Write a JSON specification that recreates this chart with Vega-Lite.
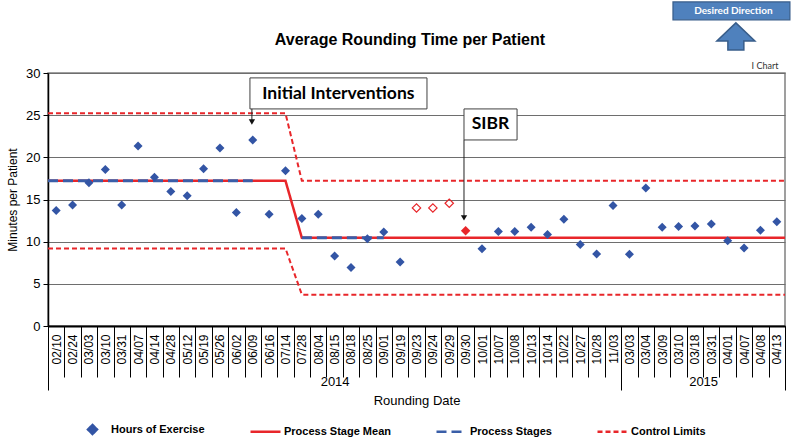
{
  "$schema": "https://vega.github.io/schema/vega-lite/v6.json",
  "width": 737,
  "height": 253,
  "autosize": {"type": "none"},
  "padding": {"left": 48, "top": 73, "right": 15, "bottom": 111},
  "background": "white",
  "config": {"view": {"stroke": "#808080", "strokeWidth": 1.5}, "font": "Liberation Sans"},
  "resolve": {"axis": {"x": "independent"}},
  "encoding": {
    "y": {"field": "v", "type": "quantitative", "scale": {"domain": [0, 30], "nice": false, "zero": false},
      "axis": {"values": [0, 5, 10, 15, 20, 25, 30], "grid": true, "gridColor": "#6e6e6e", "gridWidth": 1, "domainColor": "#000000", "domainWidth": 1.5, "tickColor": "#000000", "tickSize": 5, "labelFont": "Liberation Sans", "labelFontSize": 13, "labelColor": "#000000", "labelPadding": 3, "title": "Minutes per Patient", "titleFont": "Liberation Sans", "titleFontSize": 12, "titleFontWeight": "normal", "titleColor": "#000000", "titlePadding": 6}}
  },
  "layer": [
    {
      "data": {"values": [
        {"series": "Process Stage Mean", "i": 0.5, "v": 17.22},
        {"series": "Process Stage Mean", "i": 15, "v": 17.22},
        {"series": "Process Stage Mean", "i": 16, "v": 10.45},
        {"series": "Process Stage Mean", "i": 45.5, "v": 10.45}
      ]},
      "mark": {"type": "line", "strokeWidth": 2.5},
      "encoding": {
        "x": {"field": "i", "type": "quantitative", "scale": {"domain": [0.5, 45.5], "nice": false, "zero": false},
          "axis": {"orient": "bottom", "values": [0.5, 1.5, 2.5, 3.5, 4.5, 5.5, 6.5, 7.5, 8.5, 9.5, 10.5, 11.5, 12.5, 13.5, 14.5, 15.5, 16.5, 17.5, 18.5, 19.5, 20.5, 21.5, 22.5, 23.5, 24.5, 25.5, 26.5, 27.5, 28.5, 29.5, 30.5, 31.5, 32.5, 33.5, 34.5, 35.5, 36.5, 37.5, 38.5, 39.5, 40.5, 41.5, 42.5, 43.5, 44.5, 45.5], "labels": false, "ticks": true, "tickSize": 51, "tickColor": "#000000", "tickWidth": 1, "domain": false, "grid": false, "title": null}},
        "color": {"field": "series", "type": "nominal"},
        "strokeDash": {"field": "series", "type": "nominal"}
      }
    },
    {
      "data": {"values": [
        {"series": "Control Limits", "line": "upper", "i": 0.5, "v": 25.22},
        {"series": "Control Limits", "line": "upper", "i": 15, "v": 25.22},
        {"series": "Control Limits", "line": "upper", "i": 16, "v": 17.22},
        {"series": "Control Limits", "line": "upper", "i": 45.5, "v": 17.22},
        {"series": "Control Limits", "line": "lower", "i": 0.5, "v": 9.2},
        {"series": "Control Limits", "line": "lower", "i": 15, "v": 9.2},
        {"series": "Control Limits", "line": "lower", "i": 16, "v": 3.72},
        {"series": "Control Limits", "line": "lower", "i": 45.5, "v": 3.72}
      ]},
      "mark": {"type": "line", "strokeWidth": 2},
      "encoding": {
        "x": {"field": "i", "type": "quantitative", "scale": {"domain": [0.5, 45.5], "nice": false, "zero": false},
          "axis": {"orient": "bottom", "values": [18, 40.5], "labelExpr": "datum.value < 30 ? '2014' : '2015'", "ticks": false, "domain": false, "grid": false, "labelAngle": 0, "labelAlign": "center", "labelBaseline": "top", "labelPadding": 49, "labelFont": "Liberation Sans", "labelFontSize": 13, "labelColor": "#000000", "title": "Rounding Date", "titleFont": "Liberation Sans", "titleFontSize": 13, "titleFontWeight": "normal", "titleColor": "#000000", "titlePadding": 6}},
        "detail": {"field": "line"},
        "color": {"field": "series", "type": "nominal"},
        "strokeDash": {"field": "series", "type": "nominal"}
      }
    },
    {
      "data": {"values": [
        {"series": "Process Stages", "line": "stage1", "i": 0.5, "v": 17.22},
        {"series": "Process Stages", "line": "stage1", "i": 13, "v": 17.22},
        {"series": "Process Stages", "line": "stage2", "i": 16, "v": 10.45},
        {"series": "Process Stages", "line": "stage2", "i": 21, "v": 10.45}
      ]},
      "mark": {"type": "line", "strokeWidth": 3},
      "encoding": {
        "x": {"field": "i", "type": "quantitative", "scale": {"domain": [0.5, 45.5], "nice": false, "zero": false},
          "axis": {"orient": "bottom", "values": [0.5, 35.5, 45.5], "labels": false, "ticks": true, "tickSize": 64, "tickColor": "#000000", "tickWidth": 1, "domain": false, "grid": false, "title": null}},
        "detail": {"field": "line"},
        "color": {"field": "series", "type": "nominal"},
        "strokeDash": {"field": "series", "type": "nominal"}
      }
    },
    {
      "data": {"name": "pts", "values": [
        {"i": 1, "date": "2014-02-10", "v": 13.7, "status": "normal", "series": "Hours of Exercise"},
        {"i": 2, "date": "2014-02-24", "v": 14.35, "status": "normal", "series": "Hours of Exercise"},
        {"i": 3, "date": "2014-03-03", "v": 17.0, "status": "normal", "series": "Hours of Exercise"},
        {"i": 4, "date": "2014-03-10", "v": 18.55, "status": "normal", "series": "Hours of Exercise"},
        {"i": 5, "date": "2014-03-31", "v": 14.35, "status": "normal", "series": "Hours of Exercise"},
        {"i": 6, "date": "2014-04-07", "v": 21.35, "status": "normal", "series": "Hours of Exercise"},
        {"i": 7, "date": "2014-04-14", "v": 17.65, "status": "normal", "series": "Hours of Exercise"},
        {"i": 8, "date": "2014-04-28", "v": 15.95, "status": "normal", "series": "Hours of Exercise"},
        {"i": 9, "date": "2014-05-12", "v": 15.45, "status": "normal", "series": "Hours of Exercise"},
        {"i": 10, "date": "2014-05-19", "v": 18.65, "status": "normal", "series": "Hours of Exercise"},
        {"i": 11, "date": "2014-05-26", "v": 21.1, "status": "normal", "series": "Hours of Exercise"},
        {"i": 12, "date": "2014-06-02", "v": 13.45, "status": "normal", "series": "Hours of Exercise"},
        {"i": 13, "date": "2014-06-09", "v": 22.05, "status": "normal", "series": "Hours of Exercise"},
        {"i": 14, "date": "2014-06-16", "v": 13.25, "status": "normal", "series": "Hours of Exercise"},
        {"i": 15, "date": "2014-07-14", "v": 18.4, "status": "normal", "series": "Hours of Exercise"},
        {"i": 16, "date": "2014-07-28", "v": 12.75, "status": "normal", "series": "Hours of Exercise"},
        {"i": 17, "date": "2014-08-04", "v": 13.25, "status": "normal", "series": "Hours of Exercise"},
        {"i": 18, "date": "2014-08-15", "v": 8.3, "status": "normal", "series": "Hours of Exercise"},
        {"i": 19, "date": "2014-08-18", "v": 6.95, "status": "normal", "series": "Hours of Exercise"},
        {"i": 20, "date": "2014-08-25", "v": 10.35, "status": "normal", "series": "Hours of Exercise"},
        {"i": 21, "date": "2014-09-01", "v": 11.15, "status": "normal", "series": "Hours of Exercise"},
        {"i": 22, "date": "2014-09-19", "v": 7.6, "status": "normal", "series": "Hours of Exercise"},
        {"i": 23, "date": "2014-09-23", "v": 14.0, "status": "excluded", "series": "Hours of Exercise"},
        {"i": 24, "date": "2014-09-24", "v": 14.0, "status": "excluded", "series": "Hours of Exercise"},
        {"i": 25, "date": "2014-09-29", "v": 14.55, "status": "excluded", "series": "Hours of Exercise"},
        {"i": 26, "date": "2014-09-30", "v": 11.3, "status": "signal", "series": "Hours of Exercise"},
        {"i": 27, "date": "2014-10-01", "v": 9.15, "status": "normal", "series": "Hours of Exercise"},
        {"i": 28, "date": "2014-10-07", "v": 11.2, "status": "normal", "series": "Hours of Exercise"},
        {"i": 29, "date": "2014-10-08", "v": 11.2, "status": "normal", "series": "Hours of Exercise"},
        {"i": 30, "date": "2014-10-13", "v": 11.7, "status": "normal", "series": "Hours of Exercise"},
        {"i": 31, "date": "2014-10-14", "v": 10.85, "status": "normal", "series": "Hours of Exercise"},
        {"i": 32, "date": "2014-10-22", "v": 12.65, "status": "normal", "series": "Hours of Exercise"},
        {"i": 33, "date": "2014-10-27", "v": 9.65, "status": "normal", "series": "Hours of Exercise"},
        {"i": 34, "date": "2014-10-28", "v": 8.55, "status": "normal", "series": "Hours of Exercise"},
        {"i": 35, "date": "2014-11-03", "v": 14.3, "status": "normal", "series": "Hours of Exercise"},
        {"i": 36, "date": "2015-03-03", "v": 8.5, "status": "normal", "series": "Hours of Exercise"},
        {"i": 37, "date": "2015-03-04", "v": 16.35, "status": "normal", "series": "Hours of Exercise"},
        {"i": 38, "date": "2015-03-09", "v": 11.7, "status": "normal", "series": "Hours of Exercise"},
        {"i": 39, "date": "2015-03-10", "v": 11.8, "status": "normal", "series": "Hours of Exercise"},
        {"i": 40, "date": "2015-03-18", "v": 11.85, "status": "normal", "series": "Hours of Exercise"},
        {"i": 41, "date": "2015-03-31", "v": 12.1, "status": "normal", "series": "Hours of Exercise"},
        {"i": 42, "date": "2015-04-01", "v": 10.1, "status": "normal", "series": "Hours of Exercise"},
        {"i": 43, "date": "2015-04-07", "v": 9.25, "status": "normal", "series": "Hours of Exercise"},
        {"i": 44, "date": "2015-04-08", "v": 11.35, "status": "normal", "series": "Hours of Exercise"},
        {"i": 45, "date": "2015-04-13", "v": 12.35, "status": "normal", "series": "Hours of Exercise"}
      ]},
      "transform": [{"filter": "datum.status === 'normal'"}],
      "mark": {"type": "point", "filled": true, "size": 900, "opacity": 1},
      "encoding": {
        "x": {"field": "i", "type": "quantitative", "scale": {"domain": [0.5, 45.5], "nice": false, "zero": false},
          "axis": {"orient": "bottom", "values": [1, 2, 3, 4, 5, 6, 7, 8, 9, 10, 11, 12, 13, 14, 15, 16, 17, 18, 19, 20, 21, 22, 23, 24, 25, 26, 27, 28, 29, 30, 31, 32, 33, 34, 35, 36, 37, 38, 39, 40, 41, 42, 43, 44, 45],
            "labelExpr": "['02/10','02/24','03/03','03/10','03/31','04/07','04/14','04/28','05/12','05/19','05/26','06/02','06/09','06/16','07/14','07/28','08/04','08/15','08/18','08/25','09/01','09/19','09/23','09/24','09/29','09/30','10/01','10/07','10/08','10/13','10/14','10/22','10/27','10/28','11/03','03/03','03/04','03/09','03/10','03/18','03/31','04/01','04/07','04/08','04/13'][datum.value - 1]",
            "labelAngle": 270, "labelAlign": "right", "labelBaseline": "middle", "labelPadding": 8, "labelFont": "Liberation Sans", "labelFontSize": 12, "labelColor": "#000000", "labelOverlap": false, "labelFlush": false,
            "ticks": false, "domain": true, "domainColor": "#000000", "domainWidth": 2, "grid": false, "title": null}},
        "color": {"field": "series", "type": "nominal",
          "scale": {"domain": ["Hours of Exercise", "Process Stage Mean", "Process Stages", "Control Limits"], "range": ["#3355a5", "#e8262a", "#3a5ea8", "#e8262a"]},
          "legend": {"title": null, "orient": "none", "direction": "horizontal", "legendX": 28, "legendY": 340, "padding": 0, "columnPadding": 40, "labelOffset": 2, "symbolSize": 900, "symbolStrokeWidth": 2.5, "labelFont": "Liberation Sans", "labelFontSize": 11, "labelFontWeight": "bold", "labelColor": "#000000", "labelLimit": 300}},
        "shape": {"field": "series", "type": "nominal",
          "scale": {"domain": ["Hours of Exercise", "Process Stage Mean", "Process Stages", "Control Limits"], "range": ["M0,-0.3L0.3,0L0,0.3L-0.3,0Z", "stroke", "stroke", "stroke"]},
          "legend": {"title": null}},
        "strokeDash": {"field": "series", "type": "nominal",
          "scale": {"domain": ["Hours of Exercise", "Process Stage Mean", "Process Stages", "Control Limits"], "range": [[1, 0], [1, 0], [10, 5], [5, 3]]},
          "legend": {"title": null}}
      }
    },
    {
      "data": {"name": "pts"},
      "transform": [{"filter": "datum.status === 'excluded'"}],
      "mark": {"type": "point", "shape": "diamond", "filled": false, "size": 70, "color": "#e8262a", "strokeWidth": 1.2, "opacity": 1},
      "encoding": {
        "x": {"field": "i", "type": "quantitative", "scale": {"domain": [0.5, 45.5], "nice": false, "zero": false}, "axis": null}
      }
    },
    {
      "data": {"name": "pts"},
      "transform": [{"filter": "datum.status === 'signal'"}],
      "mark": {"type": "point", "shape": "diamond", "filled": true, "size": 90, "color": "#e8262a", "opacity": 1},
      "encoding": {
        "x": {"field": "i", "type": "quantitative", "scale": {"domain": [0.5, 45.5], "nice": false, "zero": false}, "axis": null}
      }
    },
    {
      "data": {"values": [
        {"note": "Initial Interventions", "i": 12.83, "i2": 23.64, "v": 29.42, "v2": 25.74},
        {"note": "SIBR", "i": 25.9, "i2": 29.14, "v": 25.74, "v2": 22.06}
      ]},
      "mark": {"type": "rect", "fill": "#ffffff", "stroke": "#404040", "strokeWidth": 1},
      "encoding": {
        "x": {"field": "i", "type": "quantitative", "axis": null},
        "x2": {"field": "i2"},
        "y2": {"field": "v2"}
      }
    },
    {
      "data": {"values": [
        {"note": "Initial Interventions", "i": 18.23, "v": 27.55},
        {"note": "SIBR", "i": 27.52, "v": 23.95}
      ]},
      "mark": {"type": "text", "font": "Lato", "fontSize": 17.5, "fontWeight": "bold", "color": "#000000", "align": "center", "baseline": "middle"},
      "encoding": {
        "x": {"field": "i", "type": "quantitative", "axis": null},
        "text": {"field": "note"}
      }
    },
    {
      "data": {"values": [
        {"note": "Initial Interventions", "i": 12.95, "v": 25.74, "v2": 24.2},
        {"note": "SIBR", "i": 25.9, "v": 22.06, "v2": 12.82}
      ]},
      "mark": {"type": "rule", "color": "#222222", "strokeWidth": 1},
      "encoding": {
        "x": {"field": "i", "type": "quantitative", "axis": null},
        "y2": {"field": "v2"}
      }
    },
    {
      "data": {"values": [
        {"note": "Initial Interventions", "i": 12.95, "v": 24.2},
        {"note": "SIBR", "i": 25.9, "v": 12.82}
      ]},
      "mark": {"type": "point", "shape": "triangle-down", "filled": true, "size": 40, "color": "#111111", "opacity": 1},
      "encoding": {
        "x": {"field": "i", "type": "quantitative", "axis": null}
      }
    },
    {
      "data": {"values": [{"label": "Average Rounding Time per Patient", "i": 22.6, "v": 33.93}]},
      "mark": {"type": "text", "font": "Liberation Sans", "fontSize": 16, "fontWeight": "bold", "color": "#000000", "align": "center", "baseline": "middle"},
      "encoding": {
        "x": {"field": "i", "type": "quantitative", "axis": null},
        "text": {"field": "label"}
      }
    },
    {
      "data": {"values": [{"label": "I Chart", "i": 44.28, "v": 30.84}]},
      "mark": {"type": "text", "font": "Lato", "fontSize": 9, "color": "#333333", "align": "center", "baseline": "middle"},
      "encoding": {
        "x": {"field": "i", "type": "quantitative", "axis": null},
        "text": {"field": "label"}
      }
    },
    {
      "data": {"values": [{"label": "Desired Direction", "i": 38.66, "i2": 45.8, "v": 38.43, "v2": 36.3}]},
      "mark": {"type": "rect", "fill": "#4f81bd", "stroke": "#385d8a", "strokeWidth": 1.2},
      "encoding": {
        "x": {"field": "i", "type": "quantitative", "axis": null},
        "x2": {"field": "i2"},
        "y2": {"field": "v2"}
      }
    },
    {
      "data": {"values": [{"label": "Desired Direction", "i": 42.35, "v": 37.4}]},
      "mark": {"type": "text", "font": "Lato", "fontSize": 10, "fontWeight": "bold", "color": "#ffffff", "align": "center", "baseline": "middle"},
      "encoding": {
        "x": {"field": "i", "type": "quantitative", "axis": null},
        "text": {"field": "label"}
      }
    },
    {
      "data": {"values": [{"label": "up", "i": 42.5, "v": 34.34}]},
      "mark": {"type": "point", "shape": "M0,-0.71L1,0.24L0.42,0.24L0.42,0.71L-0.42,0.71L-0.42,0.24L-1,0.24Z", "filled": true, "size": 1444, "fill": "#4f81bd", "stroke": "#385d8a", "strokeWidth": 1.5, "opacity": 1},
      "encoding": {
        "x": {"field": "i", "type": "quantitative", "axis": null}
      }
    }
  ]
}
